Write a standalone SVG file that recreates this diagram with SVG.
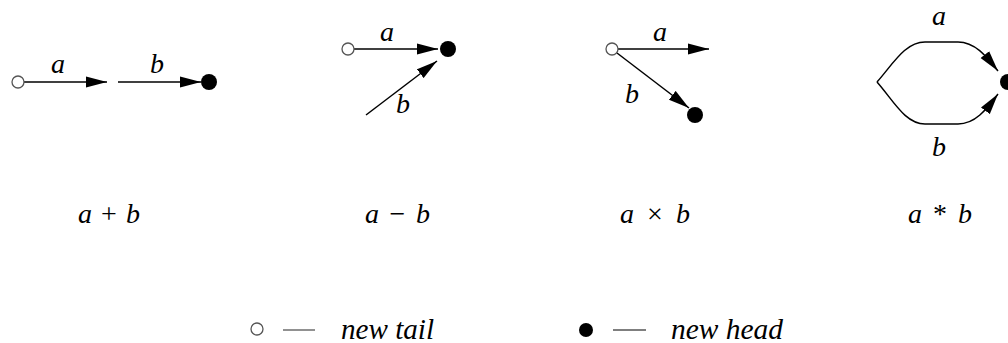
<svg xmlns="http://www.w3.org/2000/svg" width="1008" height="343" viewBox="0 0 1008 343">
<style>
.edge{fill:none;stroke:#000;stroke-width:1.5}
.tail{fill:#fff;stroke:#555;stroke-width:1.3}
.head{fill:#000}
.lbl{font-family:"Liberation Serif",serif;font-style:italic;font-size:28px;fill:#000}
.cap{font-family:"Liberation Serif",serif;font-style:italic;font-size:28px;fill:#000}
.op{font-style:normal}
.leg{font-family:"Liberation Serif",serif;font-style:italic;font-size:29px;fill:#000}
.dash{stroke:#555;stroke-width:1.3}
</style>
<defs>
<marker id="arr" markerUnits="userSpaceOnUse" markerWidth="22" markerHeight="12" refX="21" refY="6" orient="auto" viewBox="0 0 22 12">
<path d="M0,0.5 L21,6 L0,11.5 Z" fill="#000"/>
</marker>
</defs>
<g id="connectors">
<line class="edge" x1="24" y1="82" x2="107" y2="82" marker-end="url(#arr)"/>
<line class="edge" x1="118" y1="82" x2="201" y2="82" marker-end="url(#arr)"/>
<line class="edge" x1="354" y1="49" x2="438" y2="49" marker-end="url(#arr)"/>
<line class="edge" x1="366" y1="115" x2="437" y2="61" marker-end="url(#arr)"/>
<line class="edge" x1="618" y1="49" x2="709" y2="49" marker-end="url(#arr)"/>
<line class="edge" x1="617" y1="53" x2="689" y2="108" marker-end="url(#arr)"/>
<path class="edge" d="M877,82 C893,64 905,42 925,42 L958,42 C975,42 986,56 998,71" marker-end="url(#arr)"/>
<path class="edge" d="M877,82 C893,100 905,124 925,124 L958,124 C975,124 986,110 998,94" marker-end="url(#arr)"/>
</g>
<g id="panel-plus">
<g id="p1-tail"><circle class="tail" cx="18" cy="82" r="6"/></g>
<g id="p1-head"><circle class="head" cx="209" cy="82" r="8"/></g>
<text class="lbl" x="51" y="73">a</text>
<text class="lbl" x="150" y="73">b</text>
<text class="cap" x="78" y="223" textLength="62" lengthAdjust="spacing">a <tspan class="op">+</tspan> b</text>
</g>
<g id="panel-minus">
<g id="p2-tail"><circle class="tail" cx="348" cy="49" r="6"/></g>
<g id="p2-head"><circle class="head" cx="448" cy="49" r="8"/></g>
<text class="lbl" x="380" y="41">a</text>
<text class="lbl" x="396" y="113">b</text>
<text class="cap" x="365" y="223" textLength="65" lengthAdjust="spacing">a <tspan class="op">−</tspan> b</text>
</g>
<g id="panel-times">
<g id="p3-tail"><circle class="tail" cx="612" cy="49" r="6"/></g>
<g id="p3-head"><circle class="head" cx="695" cy="115" r="8"/></g>
<text class="lbl" x="653" y="41">a</text>
<text class="lbl" x="625" y="103">b</text>
<text class="cap" x="620" y="223" textLength="70" lengthAdjust="spacing">a <tspan class="op">×</tspan> b</text>
</g>
<g id="panel-star">
<g id="p4-head"><circle class="head" cx="1008" cy="82" r="8"/></g>
<text class="lbl" x="932" y="25">a</text>
<text class="lbl" x="932" y="156">b</text>
<text class="cap" x="908" y="223" textLength="64" lengthAdjust="spacing">a <tspan class="op">*</tspan> b</text>
</g>
<g id="legend">
<g id="legend-tail"><circle class="tail" cx="257" cy="329" r="6"/></g>
<line class="dash" x1="283" y1="330" x2="315" y2="330"/>
<text class="leg" x="341" y="339" textLength="93" lengthAdjust="spacingAndGlyphs">new tail</text>
<g id="legend-head"><circle class="head" cx="586" cy="330" r="7"/></g>
<line class="dash" x1="613" y1="330" x2="646" y2="330"/>
<text class="leg" x="671" y="339" textLength="112" lengthAdjust="spacingAndGlyphs">new head</text>
</g>
</svg>
